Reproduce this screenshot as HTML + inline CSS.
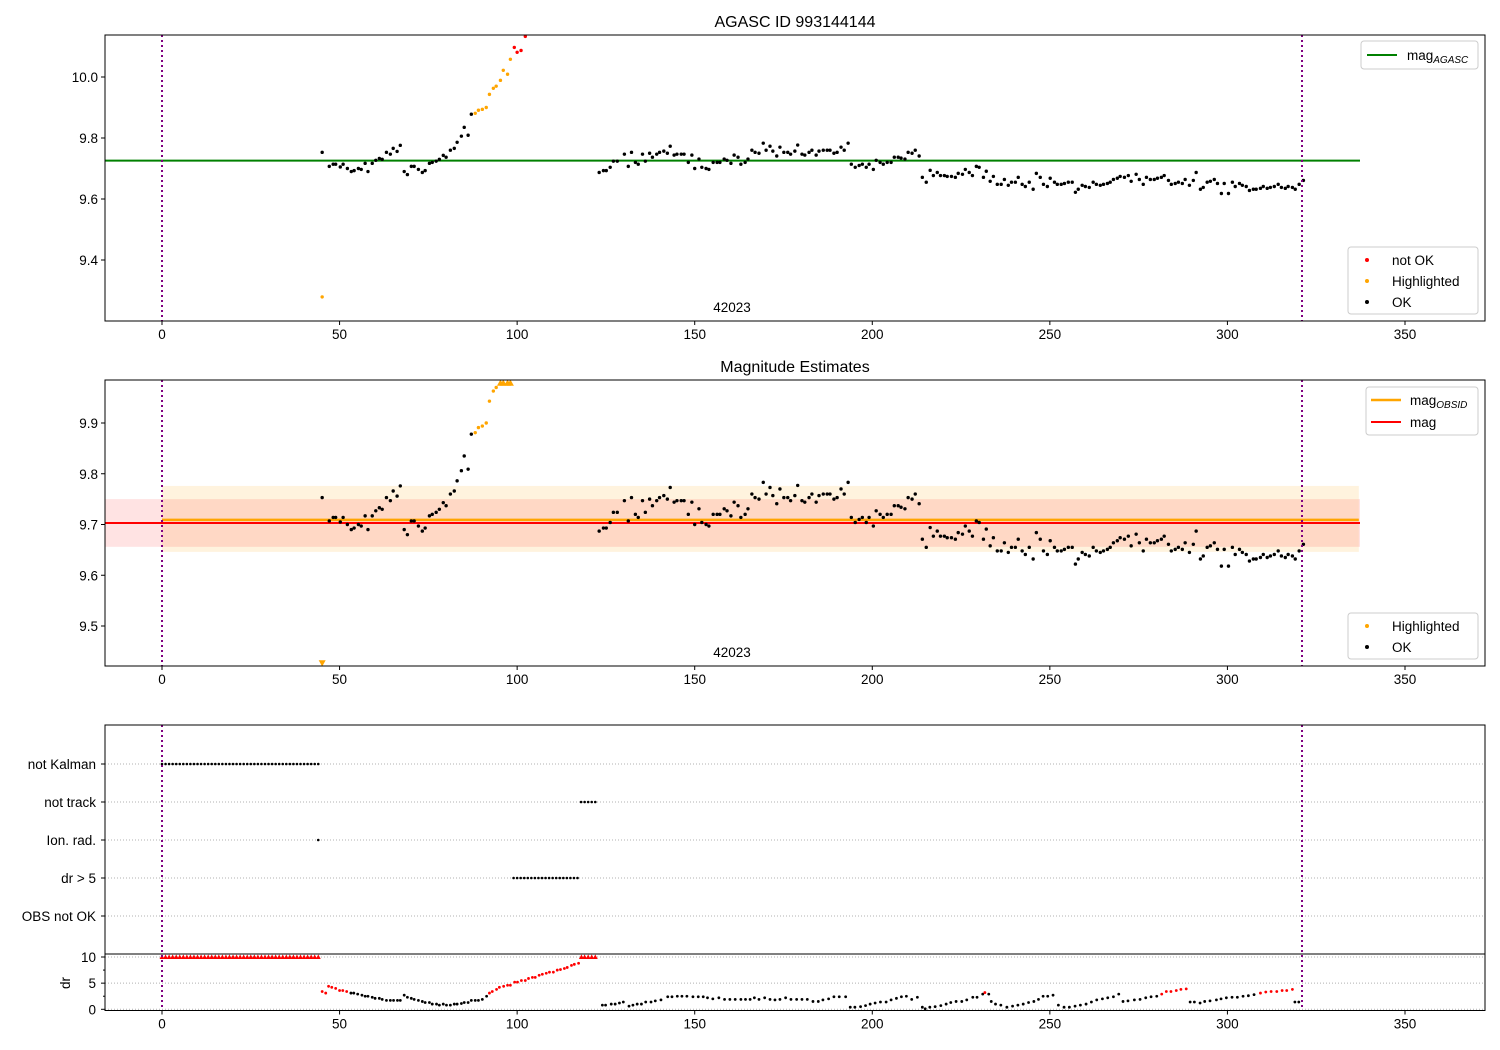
<!DOCTYPE html>
<html><head><meta charset="utf-8"><style>
html,body{margin:0;padding:0;background:#fff;}
svg{display:block;font-family:"Liberation Sans",sans-serif;}
</style></head><body>
<svg id="chart" xmlns="http://www.w3.org/2000/svg" width="1500" height="1050" viewBox="0 0 1500 1050">
<rect x="0" y="0" width="1500" height="1050" fill="#fff"/>
<text x="795" y="27" text-anchor="middle" font-size="16">AGASC ID 993144144</text>
<text x="795" y="372" text-anchor="middle" font-size="16">Magnitude Estimates</text>
<text x="732" y="312" text-anchor="middle" font-size="13.5">42023</text>
<text x="732" y="657" text-anchor="middle" font-size="13.5">42023</text>
<text x="70" y="983" text-anchor="middle" font-size="13.5" transform="rotate(-90 70 983)">dr</text>
</svg>
<script>
// ---- data ----
const xTicks = [0,50,100,150,200,250,300,350];
const p1YTicks = [9.4,9.6,9.8,10.0];
const p2YTicks = [9.5,9.6,9.7,9.8,9.9];
const drYTicks = [0,5,10];
const obsStart = 0, obsEnd = 321;
const magAgasc = 9.726;
const magObsid = 9.709, magObsidLow = 9.646, magObsidHigh = 9.776;
const magMean = 9.703, magLow = 9.656, magHigh = 9.750;

const okT = [45.1,47.1,48.2,48.9,50.2,51,52.2,53.3,54.1,55.3,56.1,57.2,58,59.2,60.2,61.2,62,63.2,64.3,65.1,66.2,67.1,68.2,69.1,70.2,71,72.2,73.3,74.1,75.3,76.1,77.2,78.1,79.2,80,81.2,82.3,83.1,84.3,85.1,86.2,87.1,
123.1,124.3,125.1,126.2,127.1,128.2,130.2,131.3,132.2,133.3,134.1,135.3,136.1,137.3,138.1,139.3,140.1,141.3,142.3,143.1,144.2,145,146.2,147,148.2,149.2,150,151.2,152,153.2,154,155.2,156.3,157.1,158.3,159.1,160.2,161.1,162.2,163,164.2,165,166.1,167,168.1,169.3,170.1,171.2,172,173.1,174,175.1,176.2,177,178.2,179,180.2,181,182.2,183,184.2,185,186.2,187.3,188.1,189.2,190.1,191.2,192.1,193.2,194.1,195.2,196.3,197.2,198.3,199.1,200.3,201.1,202.2,203.1,204.2,205.3,206.2,207.3,208.1,209.2,210.1,211.2,212.1,213.2,
214.1,215.2,216.3,217.2,218.3,219.2,220.3,221.1,222.3,223.4,224.2,225.4,226.2,227.3,228.2,229.3,230.1,231.3,232.1,233.2,234.1,235.2,236.3,237.2,238.3,239.2,240.3,241.1,242.2,243.1,244.2,245.3,246.2,247.3,248.2,249.3,250.1,251.3,252.1,253.2,254.1,255.2,256.3,257.2,258,259.1,260,261.1,262.2,263.1,264.2,265.1,266.2,267,267.9,269,269.8,271,272.1,272.9,274.3,275.2,276.3,277.2,278.3,279.4,280.3,281.4,282.2,283.4,284.2,285.3,286.2,287.3,288.1,289.3,290.4,291.2,292.4,293.2,294.3,295.2,296.3,297.2,298.3,299.1,300.3,301.4,302.2,303.4,304.2,305.3,306.2,307.3,308.1,309.3,310.1,311.2,312.1,313.2,314.3,315.2,316.3,317.1,318.3,319.1,320.2,321.4];
const okMag = [9.753,9.707,9.714,9.714,9.705,9.714,9.70,9.69,9.693,9.70,9.697,9.717,9.69,9.717,9.727,9.733,9.73,9.753,9.747,9.766,9.756,9.776,9.69,9.68,9.707,9.707,9.697,9.687,9.693,9.717,9.72,9.724,9.73,9.743,9.737,9.76,9.766,9.786,9.806,9.835,9.809,9.878,
9.687,9.693,9.693,9.704,9.724,9.724,9.747,9.707,9.753,9.72,9.714,9.747,9.724,9.75,9.737,9.747,9.753,9.757,9.75,9.773,9.744,9.747,9.747,9.747,9.72,9.744,9.70,9.731,9.704,9.70,9.697,9.72,9.72,9.72,9.731,9.727,9.717,9.744,9.737,9.714,9.72,9.731,9.76,9.753,9.75,9.783,9.76,9.773,9.757,9.741,9.77,9.753,9.753,9.747,9.757,9.777,9.747,9.744,9.753,9.76,9.744,9.757,9.76,9.76,9.76,9.75,9.753,9.77,9.76,9.783,9.714,9.704,9.71,9.714,9.704,9.714,9.697,9.727,9.72,9.714,9.72,9.72,9.737,9.737,9.734,9.731,9.753,9.75,9.76,9.741,
9.671,9.655,9.694,9.677,9.687,9.677,9.677,9.674,9.674,9.671,9.684,9.681,9.697,9.687,9.677,9.707,9.704,9.671,9.691,9.658,9.674,9.648,9.648,9.664,9.645,9.655,9.655,9.671,9.648,9.641,9.655,9.632,9.684,9.671,9.648,9.641,9.668,9.655,9.648,9.648,9.651,9.655,9.655,9.622,9.632,9.645,9.641,9.638,9.655,9.648,9.645,9.648,9.651,9.655,9.664,9.668,9.674,9.671,9.677,9.658,9.681,9.664,9.648,9.671,9.664,9.664,9.668,9.671,9.677,9.661,9.648,9.651,9.655,9.651,9.664,9.645,9.661,9.687,9.632,9.638,9.655,9.658,9.664,9.651,9.618,9.651,9.618,9.655,9.641,9.651,9.645,9.641,9.628,9.632,9.632,9.635,9.641,9.635,9.638,9.641,9.648,9.638,9.635,9.641,9.638,9.632,9.648,9.661];
const hlT = [45.1,88.2,89.1,90.2,91.3,92.2,93.3,94.1,95.3,96.1,97.3,98.1];
const hlMag = [9.279,9.881,9.891,9.894,9.90,9.943,9.963,9.97,9.989,10.022,10.009,10.058];
const badT = [99.2,100,101.1,102.3];
const badMag = [10.097,10.081,10.087,10.133];

const notKalmanT = [0,1,2,3,4,5,6,7,8,9,10,11,12,13,14,15,16,17,18,19,20,21,22,23,24,25,26,27,28,29,30,31,32,33,34,35,36,37,38,39,40,41,42,43,44];
const notTrackT = [118,119,120,121,122];
const ionRadT = [44];
const drGt5T = [99,100,101,102,103,104,105,106,107,108,109,110,111,112,113,114,115,116,117];
const obsNotOkT = [];
const flagLabels = ["not Kalman","not track","Ion. rad.","dr > 5","OBS not OK"];

const drBadT = [0,1,2,3,4,5,6,7,8,9,10,11,12,13,14,15,16,17,18,19,20,21,22,23,24,25,26,27,28,29,30,31,32,33,34,35,36,37,38,39,40,41,42,43,44,
45.1,46.1,46.9,47.8,48.9,50.0,50.9,52.0,
92.2,93,94.2,95,96.2,97.3,98.1,99.3,100.1,101.2,102.3,103.2,104.3,105.1,106.2,107.1,108.2,109.1,110.2,111.3,112.2,113.3,114.1,115.3,116.1,117.3,118.1,119,120,121,122,
231.7,281.5,282.8,284.1,285.6,286.9,288.4,309.3,310.8,312.3,313.9,315.4,316.7,318.3];
const drBad = [10,10,10,10,10,10,10,10,10,10,10,10,10,10,10,10,10,10,10,10,10,10,10,10,10,10,10,10,10,10,10,10,10,10,10,10,10,10,10,10,10,10,10,10,10,
3.4,3.1,4.4,4.2,4.0,3.6,3.6,3.4,
3.1,3.4,3.8,4.2,4.4,4.6,4.6,5.2,5.2,5.5,5.5,5.9,6.1,6.1,6.5,6.7,6.9,7.1,7.1,7.5,7.6,7.8,8.0,8.4,8.6,8.8,10,10,10,10,10,
3.2,2.9,3.4,3.4,3.6,3.8,3.9,3.1,3.3,3.4,3.4,3.6,3.6,3.8];
const drOkT = [53.2,54,55.1,56.3,57.2,58,59.2,60,61.2,62,63.2,64.3,65.2,66.3,67.1,68.2,69.1,70.2,71,72.2,73.3,74.1,75.3,76.1,77.3,78.1,79.2,80.1,81.2,82.3,83.1,84.3,85.1,86.2,87.1,88.2,89.1,90.2,91.4,
124.0,124.9,126.5,127.6,128.8,129.9,131.5,132.6,133.8,135.0,136.2,137.7,138.9,140.5,142.4,143.6,145.1,146.4,147.8,149.5,151.0,152.4,153.6,155.1,156.8,158.4,159.9,161.4,163.0,164.3,165.6,166.8,168.1,169.7,171.2,172.6,174.0,175.6,177.1,178.7,180.2,181.7,183.3,184.8,186.1,187.7,189.2,190.7,192.5,
193.8,195.1,196.7,198.1,199.4,200.8,202.3,203.9,205.3,206.8,208.2,209.6,211.1,212.7,
214.1,214.9,216.2,217.7,219.3,220.8,222.1,223.6,225.2,226.6,228.3,229.5,231.1,232.8,
233.5,234.7,236.2,237.9,239.5,241.0,242.5,244.0,245.5,246.8,248.1,249.4,250.9,
252.4,254.0,255.5,257.1,258.6,260.2,261.7,263.2,264.8,266.3,267.9,269.4,
270.6,272.0,273.8,275.4,277.0,278.5,280.1,
289.5,290.7,292.3,293.6,295.1,296.9,298.2,299.7,301.3,302.8,304.4,305.9,307.5,319.0,320.1];
const drOk = [3.1,3.1,2.9,2.7,2.5,2.5,2.3,2.1,2.1,1.9,1.7,1.7,1.7,1.7,1.7,2.7,2.3,2.1,1.9,1.7,1.5,1.3,1.3,1.0,1.0,0.8,1.0,0.8,0.8,1.0,1.0,1.1,1.3,1.3,1.7,1.7,1.7,1.9,2.5,
0.8,0.8,1.0,1.0,1.2,1.4,0.6,0.8,1.0,1.0,1.4,1.4,1.6,1.8,2.4,2.4,2.5,2.5,2.5,2.4,2.4,2.4,2.2,2.0,2.2,1.9,1.9,1.9,1.9,1.9,1.9,2.2,1.9,2.2,1.9,1.8,1.9,2.2,1.9,1.9,1.9,1.9,1.5,1.5,1.8,2.0,2.4,2.4,2.4,
0.4,0.4,0.5,0.7,1.0,1.2,1.4,1.4,1.8,2.1,2.4,2.5,1.9,2.3,
0.4,0.1,0.4,0.5,0.7,1.0,1.3,1.5,1.5,1.8,2.3,2.3,2.9,2.9,
1.5,1.0,0.8,0.4,0.6,0.8,1.0,1.3,1.5,1.9,2.5,2.5,2.7,
0.8,0.4,0.4,0.6,0.8,1.0,1.4,1.8,2.0,2.2,2.4,2.9,
1.5,1.6,1.8,1.9,2.2,2.4,2.5,
1.4,1.4,1.2,1.5,1.6,1.8,2.0,2.2,2.3,2.3,2.5,2.6,2.8,1.4,1.4];

// ---- layout ----
const L = 105, R = 1485;
const X = t => 162 + t * 3.5514;
const P1 = {top:35, bot:321, y: m => 77 + (10 - m) * 305};
const P2 = {top:380, bot:666, y: m => 423 + (9.9 - m) * 507.5};
const P3 = {top:725, mid:954, bot:1010.5};
const DRY = d => 1009.3 - d * 5.23;
const catY = i => 764 + i * 38;

const svg = document.getElementById('chart');
const NS = 'http://www.w3.org/2000/svg';
function mk(tag, attrs, parent) {
  const e = document.createElementNS(NS, tag);
  for (const k in attrs) e.setAttribute(k, attrs[k]);
  (parent || svg).appendChild(e);
  return e;
}
function txt(x, y, s, anchor, size) {
  const e = mk('text', {x:x, y:y, 'text-anchor':anchor, 'font-size':size || 13.5});
  e.textContent = s;
  return e;
}
function dot(x, y, r, fill) { return mk('circle', {cx:x, cy:y, r:r, fill:fill}); }
function tri(x, y, up, fill, s) {
  const h = s || 3.5;
  const pts = up ? `${x-h},${y+h*0.8} ${x+h},${y+h*0.8} ${x},${y-h}` : `${x-h},${y-h*0.8} ${x+h},${y-h*0.8} ${x},${y+h}`;
  return mk('polygon', {points:pts, fill:fill});
}

function xAxis(bot, prefix) {
  xTicks.forEach(v => {
    const x = X(v);
    const tk = mk('line', {x1:x, x2:x, y1:bot, y2:bot+4, stroke:'#000', 'stroke-width':1});
    
    
    const t = txt(x, bot + 18, String(v), 'middle');
    
    
  });
}
function frame(top, bot, name) {
  const r = mk('rect', {x:L, y:top, width:R-L, height:bot-top, fill:'none', stroke:'#000', 'stroke-width':1});
  
  
}
function obsLines(top, bot, prefix) {
  [obsStart, obsEnd].forEach(t => {
    const l = mk('line', {x1:X(t), x2:X(t), y1:top, y2:bot, stroke:'#800080', 'stroke-width':2, 'stroke-dasharray':'2,3'});
    
    
  });
}
function legendBox(x, y, w, h, name) {
  const r = mk('rect', {x:x, y:y, width:w, height:h, rx:3, fill:'#fff', 'fill-opacity':0.85, stroke:'#ccc'});
  
  
}

// ===== Panel 1 =====
(function(){
  const P = P1;
  const hl = mk('line', {x1:L, x2:1360, y1:P.y(magAgasc), y2:P.y(magAgasc), stroke:'#008000', 'stroke-width':2});
  
  
  p1YTicks.forEach(v => {
    const y = P.y(v);
    const tk = mk('line', {x1:L-4, x2:L, y1:y, y2:y, stroke:'#000'});
    
    
    const t = txt(L-7, y+5, v.toFixed(1), 'end');
    
    
  });
  okT.forEach((t, i) => {
    const c = dot(X(t), P.y(okMag[i]), 1.7, '#000');
    
    
  });
  hlT.forEach((t, i) => {
    const c = dot(X(t), P.y(hlMag[i]), 1.7, 'orange');
    
    
  });
  badT.forEach((t, i) => {
    const c = dot(X(t), Math.max(P.top+1, P.y(badMag[i])), 1.7, 'red');
    
    
  });
  obsLines(P.top, P.bot, 'p1');
  frame(P.top, P.bot, 'p1-axes-frame');
  xAxis(P.bot, 'p1');
  legendBox(1361, 41, 117, 28, 'p1-line-legend');
  const ll = mk('line', {x1:1367, x2:1397, y1:55, y2:55, stroke:'#008000', 'stroke-width':2});
  
  
  const lt = mk('text', {x:1407, y:60, 'font-size':13.5});
  lt.innerHTML = 'mag<tspan font-size="10" font-style="italic" dy="3">AGASC</tspan>';
  
  
  legendBox(1348, 247, 130, 67, 'p1-status-legend');
  [['not OK','red',260],['Highlighted','orange',281],['OK','#000',302]].forEach(e => {
    const c = dot(1367, e[2], 2, e[1]);
    
    
    const t = txt(1392, e[2]+5, e[0], 'start');
    
    
  });
})();

// ===== Panel 2 =====
(function(){
  const P = P2;
  const b1 = mk('rect', {x:X(0), y:P.y(magObsidHigh), width:X(337)-X(0), height:P.y(magObsidLow)-P.y(magObsidHigh), fill:'orange', 'fill-opacity':0.13});
  
  
  const b2 = mk('rect', {x:L, y:P.y(magHigh), width:1360-L, height:P.y(magLow)-P.y(magHigh), fill:'red', 'fill-opacity':0.11});
  
  
  const l1 = mk('line', {x1:X(0), x2:X(337), y1:P.y(magObsid), y2:P.y(magObsid), stroke:'orange', 'stroke-width':2.5});
  
  
  const l2 = mk('line', {x1:L, x2:1360, y1:P.y(magMean), y2:P.y(magMean), stroke:'red', 'stroke-width':2});
  
  
  p2YTicks.forEach(v => {
    const y = P.y(v);
    const tk = mk('line', {x1:L-4, x2:L, y1:y, y2:y, stroke:'#000'});
    
    
    const t = txt(L-7, y+5, v.toFixed(1), 'end');
    
    
  });
  okT.forEach((t, i) => {
    const c = dot(X(t), P.y(okMag[i]), 1.7, '#000');
    
    
  });
  hlT.forEach((t, i) => {
    const y = P.y(hlMag[i]);
    let c;
    if (y < P.top + 3) c = tri(X(t), P.top + 3, true, 'orange', 3.5);
    else if (y > P.bot - 3) c = tri(X(t), P.bot - 3, false, 'orange', 3.5);
    else c = dot(X(t), y, 1.7, 'orange');
    
    
  });
  obsLines(P.top, P.bot, 'p2');
  frame(P.top, P.bot, 'p2-axes-frame');
  xAxis(P.bot, 'p2');
  legendBox(1366, 387, 112, 48, 'p2-line-legend');
  const a = mk('line', {x1:1371, x2:1401, y1:400, y2:400, stroke:'orange', 'stroke-width':2.5});
  
  
  const at = mk('text', {x:1410, y:405, 'font-size':13.5});
  at.innerHTML = 'mag<tspan font-size="10" font-style="italic" dy="3">OBSID</tspan>';
  
  
  const b = mk('line', {x1:1371, x2:1401, y1:422, y2:422, stroke:'red', 'stroke-width':2});
  
  
  const bt = txt(1410, 427, 'mag', 'start');
  
  
  legendBox(1348, 613, 130, 46, 'p2-status-legend');
  [['Highlighted','orange',626],['OK','#000',647]].forEach(e => {
    const c = dot(1367, e[2], 2, e[1]);
    
    
    const t = txt(1392, e[2]+5, e[0], 'start');
    
    
  });
})();

// ===== Panel 3 =====
(function(){
  flagLabels.forEach((s, i) => {
    const y = catY(i);
    const g = mk('line', {x1:L, x2:R, y1:y, y2:y, stroke:'#b0b0b0', 'stroke-width':1, 'stroke-dasharray':'1,2'});
    
    
    const tk = mk('line', {x1:L-4, x2:L, y1:y, y2:y, stroke:'#000'});
    
    
    const t = txt(L-9, y+5, s, 'end');
    
    
  });
  [notKalmanT, notTrackT, ionRadT, drGt5T, obsNotOkT].forEach((arr, i) => {
    arr.forEach(t => {
      const c = dot(X(t), catY(i), 1.3, '#000');
      
      
    });
  });
  drYTicks.forEach(v => {
    const y = DRY(v);
    const g = mk('line', {x1:L, x2:R, y1:y, y2:y, stroke:'#b0b0b0', 'stroke-width':1, 'stroke-dasharray':'1,2'});
    
    
    const tk = mk('line', {x1:L-4, x2:L, y1:y, y2:y, stroke:'#000'});
    
    
    const t = txt(L-9, y+5, String(v), 'end');
    
    
  });
  [2.5, 7.5].forEach(v => {
    const tk = mk('line', {x1:L-2, x2:L, y1:DRY(v), y2:DRY(v), stroke:'#000'});
    
    
  });
  drOkT.forEach((t, i) => {
    const c = dot(X(t), DRY(drOk[i]), 1.4, '#000');
    
    
  });
  drBadT.forEach((t, i) => {
    const v = drBad[i];
    const c = v >= 10 ? tri(X(t), DRY(10), true, 'red', 2.5) : dot(X(t), DRY(v), 1.4, 'red');
    
    
  });
  obsLines(P3.top, P3.bot, 'p3');
  const sep = mk('line', {x1:L, x2:R, y1:P3.mid, y2:P3.mid, stroke:'#000', 'stroke-width':1});
  
  
  frame(P3.top, P3.bot, 'p3-axes-frame');
  xAxis(P3.bot, 'p3');
})();
</script>
</body></html>
